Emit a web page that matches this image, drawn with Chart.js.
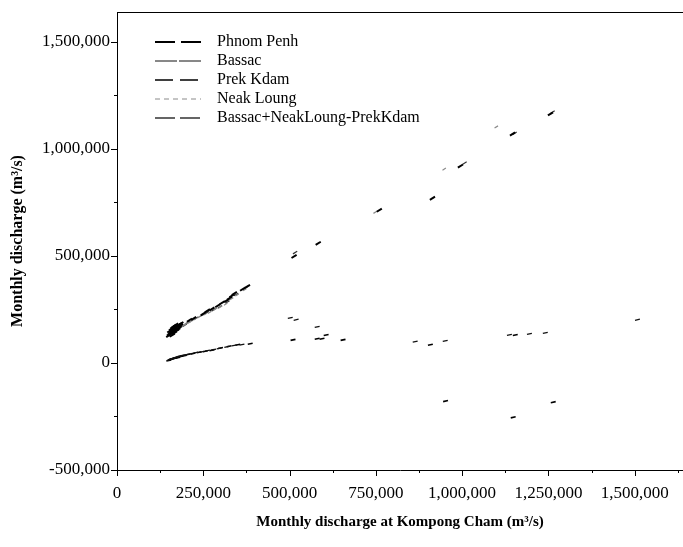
<!DOCTYPE html>
<html>
<head>
<meta charset="utf-8">
<script src="https://cdn.jsdelivr.net/npm/chart.js@4/dist/chart.umd.min.js"></script>
<style>
  html, body { margin: 0; padding: 0; background: #fff; overflow: hidden; }
  #wrap { width: 683px; height: 547px; }
</style>
</head>
<body>
<div id="wrap"><canvas id="myChart"></canvas></div>
<script>
// monthly discharge pairs: [Kompong Cham, station] in m3/s
const phnomPenh = [
  [150000, 128000], [152000, 135000], [153000, 150000], [155000, 140000], [157000, 146000],
  [158000, 138000], [158000, 160000], [160000, 150000], [160000, 130000], [162000, 156000],
  [162000, 168000], [163000, 147000], [165000, 158000], [165000, 172000], [166000, 140000],
  [167000, 163000], [168000, 152000], [170000, 165000], [170000, 178000], [172000, 170000],
  [172000, 150000], [174000, 160000], [175000, 172000], [176000, 155000], [178000, 176000],
  [180000, 165000], [181000, 180000], [184000, 175000], [185000, 184000], [210000, 200000],
  [222000, 208000], [250000, 230000], [262000, 244000], [275000, 252000], [292000, 268000],
  [305000, 282000], [318000, 292000], [326000, 303000], [333000, 314000], [340000, 325000],
  [364000, 345000], [378000, 358000], [513000, 498000], [583000, 559000], [760000, 714000],
  [914000, 770000], [995000, 920000], [1146000, 1070000], [1256000, 1164000]
];
const bassac = [
  [152000, 15000], [156000, 18000], [160000, 20000], [163000, 22000], [166000, 24000],
  [170000, 26000], [174000, 28000], [178000, 30000], [183000, 33000], [190000, 36000],
  [198000, 38000], [212000, 43000], [228000, 48000], [245000, 52000], [262000, 58000],
  [280000, 62000], [296000, 68000], [318000, 75000], [340000, 82000], [362000, 86000],
  [502000, 211000], [519000, 202000], [580000, 169000], [864000, 100000], [951000, 103000],
  [1137000, 131000], [1195000, 136000], [1241000, 141000], [1508000, 202000]
];
const prekKdam = [
  [150000, 12000], [155000, 16000], [158000, 19000], [162000, 20000], [168000, 22000],
  [176000, 25000], [185000, 30000], [195000, 34000], [205000, 40000], [220000, 44000],
  [238000, 50000], [256000, 55000], [275000, 60000], [300000, 70000], [325000, 78000],
  [350000, 85000], [386000, 90000], [510000, 108000], [580000, 113000], [594000, 113000],
  [606000, 131000], [655000, 108000], [908000, 85000], [1154000, 131000],
  [952000, -178000], [1148000, -254000], [1264000, -183000]
];
const neakLoung = [
  [190000, 172000], [195000, 178000], [200000, 185000], [208000, 188000], [215000, 195000],
  [226000, 205000], [238000, 215000], [255000, 228000], [268000, 236000], [285000, 252000],
  [300000, 262000], [315000, 275000], [332000, 300000], [348000, 318000], [370000, 342000],
  [748000, 704000], [948000, 906000], [1099000, 1103000]
];
const combined = [
  [165000, 145000], [170000, 152000], [178000, 160000], [185000, 168000], [196000, 176000],
  [205000, 190000], [230000, 210000], [245000, 222000], [260000, 235000], [280000, 248000],
  [298000, 262000], [320000, 285000], [345000, 320000], [372000, 350000],
  [516000, 516000], [1007000, 934000], [1152000, 1073000], [1262000, 1172000]
];

const xTicks = [0, 250000, 500000, 750000, 1000000, 1250000, 1500000];
const yTicks = [-500000, 0, 500000, 1000000, 1500000];

const serif = "'Liberation Serif', 'Times New Roman', serif";
const toPoints = arr => arr.map(p => ({ x: p[0], y: p[1] }));

// keep the plot box fixed: no extra room for edge labels
function noEdgePadding(s) {
  s.paddingLeft = 0;
  s.paddingRight = 0;
  s.paddingTop = 0;
  s.paddingBottom = 0;
}

// frame: top border, tick marks and the legend inside the plot
const frame = {
  id: "frame",
  afterDraw(chart) {
    const { ctx, chartArea, scales } = chart;
    const sx = scales.x, sy = scales.y;
    ctx.save();
    ctx.strokeStyle = "#000";
    ctx.lineWidth = 1;
    ctx.beginPath();
    ctx.moveTo(chartArea.left, chartArea.top + 0.5);
    ctx.lineTo(chartArea.right, chartArea.top + 0.5);
    ctx.stroke();

    ctx.beginPath();
    yTicks.forEach((v, i) => {
      const py = Math.round(sy.getPixelForValue(v)) + 0.5;
      ctx.moveTo(chartArea.left - 6, py);
      ctx.lineTo(chartArea.left, py);
      if (i < yTicks.length - 1) {
        const my = Math.round(sy.getPixelForValue((v + yTicks[i + 1]) / 2)) + 0.5;
        ctx.moveTo(chartArea.left - 3, my);
        ctx.lineTo(chartArea.left, my);
      }
    });
    const step = xTicks[1] - xTicks[0];
    xTicks.forEach(v => {
      const px = Math.round(sx.getPixelForValue(v)) + 0.5;
      ctx.moveTo(px, chartArea.bottom);
      ctx.lineTo(px, chartArea.bottom + 6);
      const mx = Math.round(sx.getPixelForValue(v + step / 2)) + 0.5;
      if (mx < chartArea.right) {
        ctx.moveTo(mx, chartArea.bottom);
        ctx.lineTo(mx, chartArea.bottom + 3);
      }
    });
    ctx.stroke();

    // legend
    ctx.font = "16px " + serif;
    ctx.textBaseline = "middle";
    ctx.fillStyle = "#000";
    chart.data.datasets.forEach((ds, i) => {
      const ly = 42 + i * 19;
      ctx.beginPath();
      ctx.setLineDash(ds.legendDash);
      ctx.lineWidth = ds.legendWidth;
      ctx.strokeStyle = ds.borderColor;
      ctx.moveTo(155, ly);
      ctx.lineTo(201, ly);
      ctx.stroke();
      ctx.setLineDash([]);
      ctx.fillText(ds.label, 217, ly);
    });
    ctx.restore();
  }
};

const ctx = document.getElementById("myChart").getContext("2d");
const myChart = new Chart(ctx, {
  type: "scatter",
  data: {
    datasets: [
      {
        label: "Phnom Penh",
        data: toPoints(phnomPenh),
        borderColor: "#000",
        backgroundColor: "#000",
        pointStyle: "line",
        pointRadius: 3,
        borderWidth: 2,
        rotation: -32,
        legendDash: [20, 6],
        legendWidth: 2,
      },
      {
        label: "Bassac",
        data: toPoints(bassac),
        borderColor: "#111",
        backgroundColor: "#111",
        pointStyle: "line",
        pointRadius: 2.5,
        borderWidth: 1.3,
        rotation: -12,
        legendDash: [22, 2],
        legendWidth: 1,
      },
      {
        label: "Prek Kdam",
        data: toPoints(prekKdam),
        borderColor: "#000",
        backgroundColor: "#000",
        pointStyle: "line",
        pointRadius: 2.5,
        borderWidth: 1.6,
        rotation: -12,
        legendDash: [18, 7],
        legendWidth: 1.5,
      },
      {
        label: "Neak Loung",
        data: toPoints(neakLoung),
        borderColor: "#8a8a8a",
        backgroundColor: "#8a8a8a",
        pointStyle: "line",
        pointRadius: 2,
        borderWidth: 1.2,
        rotation: -32,
        legendDash: [5, 4],
        legendWidth: 1,
      },
      {
        label: "Bassac+NeakLoung-PrekKdam",
        data: toPoints(combined),
        borderColor: "#333",
        backgroundColor: "#333",
        pointStyle: "line",
        pointRadius: 2.5,
        borderWidth: 1.2,
        rotation: -32,
        legendDash: [20, 5],
        legendWidth: 1.3,
      },
    ],
  },
  options: {
    responsive: true,
    maintainAspectRatio: false,
    animation: false,
    layout: { autoPadding: false, padding: { top: 12, left: 0, right: 0, bottom: 0 } },
    plugins: {
      legend: { display: false },
      tooltip: { enabled: false },
    },
    scales: {
      x: {
        type: "linear",
        min: 0,
        max: 1640000,
        afterBuildTicks: s => { s.ticks = xTicks.map(v => ({ value: v })); },
        afterFit: s => { s.height = 77; noEdgePadding(s); },
        ticks: {
          callback: v => v.toLocaleString("en-US"),
          font: { family: serif, size: 17 },
          color: "#000",
          padding: 13,
          maxRotation: 0,
          autoSkip: false,
        },
        grid: { display: false, drawTicks: false },
        border: { display: true, color: "#000", width: 1 },
        title: {
          display: true,
          text: "Monthly discharge at Kompong Cham (m³/s)",
          font: { family: serif, size: 15, weight: "bold" },
          color: "#000",
          padding: { top: 0, bottom: 16 },
        },
      },
      y: {
        type: "linear",
        min: -500000,
        max: 1640000,
        afterBuildTicks: s => { s.ticks = yTicks.map(v => ({ value: v })); },
        afterFit: s => { s.width = 117; noEdgePadding(s); },
        ticks: {
          callback: v => v.toLocaleString("en-US"),
          font: { family: serif, size: 17 },
          color: "#000",
          padding: 7,
        },
        grid: { display: false, drawTicks: false },
        border: { display: true, color: "#000", width: 1 },
        title: {
          display: true,
          text: "Monthly discharge (m³/s)",
          font: { family: serif, size: 16, weight: "bold" },
          color: "#000",
          padding: { top: 8, bottom: 0 },
        },
      },
    },
  },
  plugins: [frame],
});
</script>
</body>
</html>
